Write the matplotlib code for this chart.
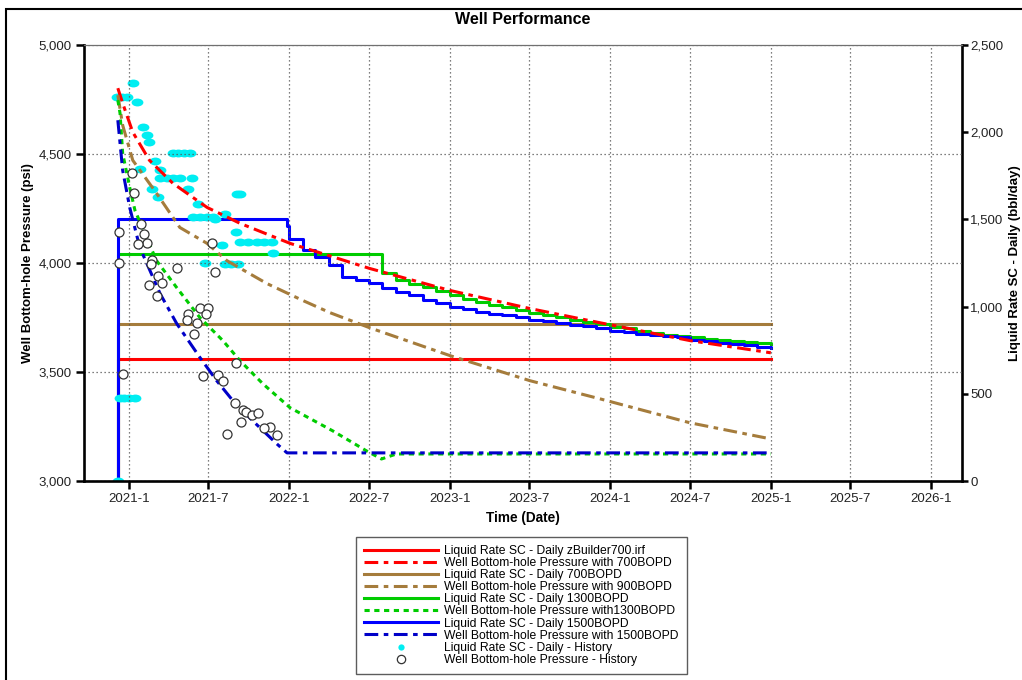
import matplotlib
matplotlib.use('Agg')
import matplotlib.pyplot as plt
import matplotlib.dates as mdates
import pandas as pd
from matplotlib.path import Path
from matplotlib.transforms import Affine2D
from matplotlib.lines import Line2D
from matplotlib.patches import Rectangle
from matplotlib.ticker import FuncFormatter, FixedLocator

plt.rcParams['font.family'] = ['Liberation Sans', 'DejaVu Sans']

# ---------------- text ----------------
title = "Well Performance"
x_label = "Time (Date)"
y_left_label = "Well Bottom-hole Pressure (psi)"
y_right_label = "Liquid Rate SC - Daily (bbl/day)"

tick_dates = ['2021-01-01', '2021-07-01', '2022-01-01', '2022-07-01', '2023-01-01', '2023-07-01',
              '2024-01-01', '2024-07-01', '2025-01-01', '2025-07-01', '2026-01-01']
tick_labels = ['2021-1', '2021-7', '2022-1', '2022-7', '2023-1', '2023-7',
               '2024-1', '2024-7', '2025-1', '2025-7', '2026-1']
left_ticks = [3000, 3500, 4000, 4500, 5000]
right_ticks = [0, 500, 1000, 1500, 2000, 2500]

labels = ["Liquid Rate SC - Daily zBuilder700.irf",
          "Well Bottom-hole Pressure with 700BOPD",
          "Liquid Rate SC - Daily 700BOPD",
          "Well Bottom-hole Pressure with 900BOPD",
          "Liquid Rate SC - Daily 1300BOPD",
          "Well Bottom-hole Pressure with1300BOPD",
          "Liquid Rate SC - Daily 1500BOPD",
          "Well Bottom-hole Pressure with 1500BOPD",
          "Liquid Rate SC - Daily - History",
          "Well Bottom-hole Pressure - History"]

# ---------------- rate series (right axis, bbl/day) ----------------
rate_700_dates = ['2020-12-07', '2020-12-07', '2025-01-01']
rate_700_vals = [0, 700, 700]

rate_900_dates = ['2020-12-07', '2020-12-07', '2025-01-01']
rate_900_vals = [0, 900, 900]

rate_1300_dates = ['2020-12-07', '2020-12-07', '2022-08-01', '2022-09-01', '2022-10-01', '2022-11-01',
                   '2022-12-01', '2023-01-01', '2023-02-01', '2023-03-01', '2023-04-01', '2023-05-01',
                   '2023-06-01', '2023-07-01', '2023-08-01', '2023-09-01', '2023-10-01', '2023-11-01',
                   '2023-12-01', '2024-01-01', '2024-02-01', '2024-03-01', '2024-04-01', '2024-05-01',
                   '2024-06-01', '2024-07-01', '2024-08-01', '2024-09-01', '2024-10-01', '2024-11-01',
                   '2024-12-01', '2025-01-01']
rate_1300_vals = [0, 1300, 1193, 1152, 1130, 1112,
                  1090, 1066, 1045, 1026, 1012, 998,
                  980, 963, 952, 940, 926, 912,
                  900, 885, 875, 860, 850, 840,
                  830, 824, 815, 806, 800, 795,
                  790, 785]

rate_1500_dates = ['2020-12-07', '2020-12-07', '2021-12-27', '2022-01-01', '2022-02-01', '2022-03-01',
                   '2022-04-01', '2022-05-01', '2022-06-01', '2022-07-01', '2022-08-01', '2022-09-01',
                   '2022-10-01', '2022-11-01', '2022-12-01', '2023-01-01', '2023-02-01', '2023-03-01',
                   '2023-04-01', '2023-05-01', '2023-06-01', '2023-07-01', '2023-08-01', '2023-09-01',
                   '2023-10-01', '2023-11-01', '2023-12-01', '2024-01-01', '2024-02-01', '2024-03-01',
                   '2024-04-01', '2024-05-01', '2024-06-01', '2024-07-01', '2024-08-01', '2024-09-01',
                   '2024-10-01', '2024-11-01', '2024-12-01', '2025-01-01']
rate_1500_vals = [0, 1500, 1460, 1385, 1325, 1284,
                  1238, 1170, 1150, 1135, 1107, 1084,
                  1066, 1038, 1021, 998, 985, 969,
                  960, 952, 938, 923, 915, 905,
                  894, 886, 877, 860, 854, 845,
                  837, 832, 826, 808, 800, 791,
                  786, 780, 768, 763]

# ---------------- pressure series (left axis, psi) ----------------
bhp_700_dates = ['2020-12-07', '2020-12-18', '2021-01-10', '2021-02-17', '2021-04-11', '2021-06-28',
                 '2021-09-11', '2022-01-03', '2022-07-03', '2023-01-02', '2023-07-03', '2023-12-09',
                 '2024-07-01', '2025-01-01']
bhp_700_vals = [4802, 4733, 4600, 4471, 4366, 4255,
                4182, 4090, 3975, 3874, 3791, 3726,
                3644, 3588]

bhp_900_dates = ['2020-12-07', '2020-12-18', '2021-01-10', '2021-03-05', '2021-04-27', '2021-06-28',
                 '2021-08-12', '2021-11-11', '2022-02-01', '2022-04-04', '2022-07-03', '2023-01-02',
                 '2023-07-03', '2023-12-09', '2024-07-01', '2025-01-01']
bhp_900_vals = [4770, 4632, 4471, 4320, 4163, 4090,
                4011, 3906, 3828, 3772, 3703, 3575,
                3460, 3377, 3267, 3193]

bhp_1300_dates = ['2020-12-07', '2020-12-12', '2020-12-18', '2021-01-03', '2021-01-15', '2021-03-05',
                  '2021-04-20', '2021-06-12', '2021-08-03', '2021-09-11', '2021-11-02', '2022-01-03',
                  '2022-04-10', '2022-06-26', '2022-07-30', '2022-09-02', '2025-01-01']
bhp_1300_vals = [4747, 4687, 4503, 4347, 4241, 4011,
                 3887, 3749, 3644, 3552, 3446, 3336,
                 3230, 3138, 3101, 3124, 3124]

bhp_1500_dates = ['2020-12-07', '2020-12-18', '2021-01-03', '2021-01-26', '2021-02-11', '2021-03-13',
                  '2021-04-20', '2021-06-12', '2021-07-20', '2021-08-26', '2021-10-10', '2021-12-04',
                  '2021-12-27', '2025-01-01']
bhp_1500_vals = [4655, 4425, 4255, 4071, 3998, 3860,
                 3722, 3566, 3460, 3368, 3276, 3170,
                 3129, 3129]

# ---------------- history ----------------
hist_rate_dates = ['2021-01-10', '2020-12-05', '2020-12-16', '2020-12-27', '2021-01-19', '2021-02-02',
                   '2021-02-11', '2021-02-16', '2021-04-11', '2021-04-24', '2021-05-07', '2021-05-20',
                   '2021-03-01', '2021-01-26', '2021-03-13', '2021-03-13', '2021-03-28', '2021-04-12',
                   '2021-04-27', '2021-05-24', '2021-02-22', '2021-05-15', '2021-03-08', '2021-09-04',
                   '2021-09-12', '2021-06-07', '2021-05-27', '2021-06-12', '2021-06-27', '2021-07-11',
                   '2021-08-08', '2021-07-16', '2021-09-02', '2021-08-01', '2021-09-11', '2021-09-30',
                   '2021-10-20', '2021-11-05', '2021-11-23', '2021-11-25', '2021-06-23', '2021-08-08',
                   '2021-08-22', '2021-09-06', '2020-12-12', '2020-12-22', '2021-01-01', '2021-01-15',
                   '2020-12-07']
hist_rate_vals = [2282, 2202, 2202, 2202, 2173, 2030,
                  1984, 1944, 1881, 1881, 1881, 1881,
                  1835, 1789, 1783, 1737, 1737, 1737,
                  1737, 1737, 1674, 1674, 1628, 1646,
                  1646, 1588, 1514, 1514, 1514, 1514,
                  1531, 1502, 1428, 1353, 1368, 1368,
                  1368, 1368, 1368, 1307, 1250, 1244,
                  1244, 1244, 476, 476, 476, 476,
                  0]

hist_bhp_dates = ['2021-01-08', '2021-01-12', '2021-01-28', '2020-12-09', '2021-02-04', '2021-02-11',
                  '2021-01-21', '2021-07-09', '2021-02-22', '2020-12-09', '2021-02-20', '2021-04-20',
                  '2021-03-08', '2021-07-16', '2021-03-17', '2021-02-17', '2021-03-05', '2021-06-12',
                  '2021-06-30', '2021-05-15', '2021-06-25', '2021-05-13', '2021-06-05', '2021-05-29',
                  '2021-09-02', '2020-12-18', '2021-06-18', '2021-07-23', '2021-08-03', '2021-08-30',
                  '2021-09-18', '2021-09-24', '2021-10-08', '2021-10-22', '2021-09-13', '2021-11-18',
                  '2021-11-04', '2021-12-04', '2021-08-12']
hist_bhp_vals = [4411, 4320, 4177, 4140, 4131, 4094,
                 4085, 4090, 4016, 4002, 3995, 3975,
                 3942, 3961, 3910, 3901, 3850, 3795,
                 3795, 3768, 3768, 3740, 3726, 3676,
                 3542, 3492, 3483, 3488, 3460, 3359,
                 3326, 3317, 3303, 3313, 3271, 3248,
                 3244, 3211, 3216]

# ---------------- styles ----------------
RED = '#FF0000'
BROWN = '#A57C3C'
GREEN = '#00CC00'
BLUE = '#0000FF'
DBLUE = '#0000C8'
CYAN = '#00EEF2'
LW = 2.2
DASHDOT = (0, (4.5, 1.8, 1.5, 1.8))
DOTTED = (0, (1.7, 1.5))

W, H = 1022, 680
fig = plt.figure(figsize=(W / 100, H / 100), dpi=100)
L, R, T, B = 84, 962, 45, 481
ax1 = fig.add_axes([L / W, 1 - B / H, (R - L) / W, (B - T) / H])
ax2 = ax1.twinx()
ax1.set_zorder(ax2.get_zorder() + 1)
ax1.patch.set_visible(False)

d = pd.to_datetime

# rates on right axis
h_r700, = ax2.plot(d(rate_700_dates), rate_700_vals, color=RED, lw=LW, drawstyle='steps-post')
h_r900, = ax2.plot(d(rate_900_dates), rate_900_vals, color=BROWN, lw=LW, drawstyle='steps-post')
h_r1300, = ax2.plot(d(rate_1300_dates), rate_1300_vals, color=GREEN, lw=LW, drawstyle='steps-post')
h_r1500, = ax2.plot(d(rate_1500_dates), rate_1500_vals, color=BLUE, lw=LW, drawstyle='steps-post')
ell = Path.unit_circle().transformed(Affine2D().scale(1.5, 1.0))
ax2.plot(d(hist_rate_dates), hist_rate_vals, ls='none', marker=ell, ms=8.5, mfc=CYAN, mec=CYAN, mew=0)

# pressures on left axis
h_p700, = ax1.plot(d(bhp_700_dates), bhp_700_vals, color=RED, lw=LW, ls=DASHDOT)
h_p900, = ax1.plot(d(bhp_900_dates), bhp_900_vals, color=BROWN, lw=LW, ls=DASHDOT)
h_p1300, = ax1.plot(d(bhp_1300_dates), bhp_1300_vals, color=GREEN, lw=LW, ls=DOTTED)
h_p1500, = ax1.plot(d(bhp_1500_dates), bhp_1500_vals, color=DBLUE, lw=LW, ls=DASHDOT)
ax1.plot(d(hist_bhp_dates), hist_bhp_vals, ls='none', marker='o', ms=6.5, mfc='white',
         mec='#333333', mew=0.9)

# axes limits and ticks
ax1.set_xlim(d('2020-09-21'), d('2026-03-12'))
ax1.set_ylim(3000, 5000)
ax2.set_ylim(0, 2500)
ax1.xaxis.set_major_locator(FixedLocator(mdates.date2num(d(tick_dates))))
ax1.set_xticklabels(tick_labels)
ax1.set_yticks(left_ticks)
ax2.set_yticks(right_ticks)
fmt = FuncFormatter(lambda v, p: f"{int(v):,}")
ax1.yaxis.set_major_formatter(fmt)
ax2.yaxis.set_major_formatter(fmt)

ax1.grid(True, color='#555555', ls=(0, (1, 2.2)), lw=0.9)
ax1.set_axisbelow(True)

for a in (ax1, ax2):
    for s in a.spines.values():
        s.set_visible(False)
ax1.spines['left'].set_visible(True)
ax1.spines['left'].set_linewidth(1.9)
ax1.spines['bottom'].set_visible(True)
ax1.spines['bottom'].set_linewidth(1.9)
ax1.spines['top'].set_visible(True)
ax1.spines['top'].set_linewidth(0.9)
ax1.spines['top'].set_color('#707070')
ax2.spines['right'].set_visible(True)
ax2.spines['right'].set_linewidth(1.9)

TC = '#222222'
ax1.tick_params(axis='y', direction='out', length=6, width=1.8, labelsize=9.5, pad=3, colors='black',
                labelcolor=TC)
ax1.tick_params(axis='x', direction='out', length=6, width=1.8, labelsize=9.5, pad=3, colors='black',
                labelcolor=TC)
ax2.tick_params(axis='y', direction='out', length=4, width=1.8, labelsize=9.5, pad=2, colors='black',
                labelcolor=TC)

ax1.set_xlabel(x_label, fontsize=9.8, fontweight='bold')
ax1.xaxis.set_label_coords(0.5, (B - 511) / (B - T))
ax1.set_ylabel(y_left_label, fontsize=9.5, fontweight='bold')
ax1.yaxis.set_label_coords((34 - L) / (R - L), 0.5)
ax2.set_ylabel(y_right_label, fontsize=9.5, fontweight='bold')
ax2.yaxis.set_label_coords((1009 - L) / (R - L), 0.5)

fig.text((L + R) / 2 / W, 1 - 19 / H, title, ha='center', va='center', fontsize=11.5, fontweight='bold')

# legend
h_hr = Line2D([], [], ls='none', marker='o', ms=4.5, mfc=CYAN, mec=CYAN, mew=0)
h_hp = Line2D([], [], ls='none', marker='o', ms=6, mfc='white', mec='#333333', mew=0.9)
handles = [h_r700, h_p700, h_r900, h_p900, h_r1300, h_p1300, h_r1500, h_p1500, h_hr, h_hp]
leg = fig.legend(handles, labels, loc='upper center', bbox_to_anchor=(521.5 / W, 1 - 537 / H),
                 bbox_transform=fig.transFigure, fontsize=8.7, frameon=True, fancybox=False,
                 handlelength=6.1, handletextpad=0.55, labelspacing=0.01, borderpad=0.65,
                 borderaxespad=0)
leg.get_frame().set_edgecolor('#333333')
leg.get_frame().set_linewidth(1.0)

# outer frame
fig.add_artist(Rectangle((6 / W, -0.5), 2, 1.5 - 9 / H, transform=fig.transFigure, fill=False,
                         lw=1.5, edgecolor='black'))

fig.savefig('out.png', dpi=100)
